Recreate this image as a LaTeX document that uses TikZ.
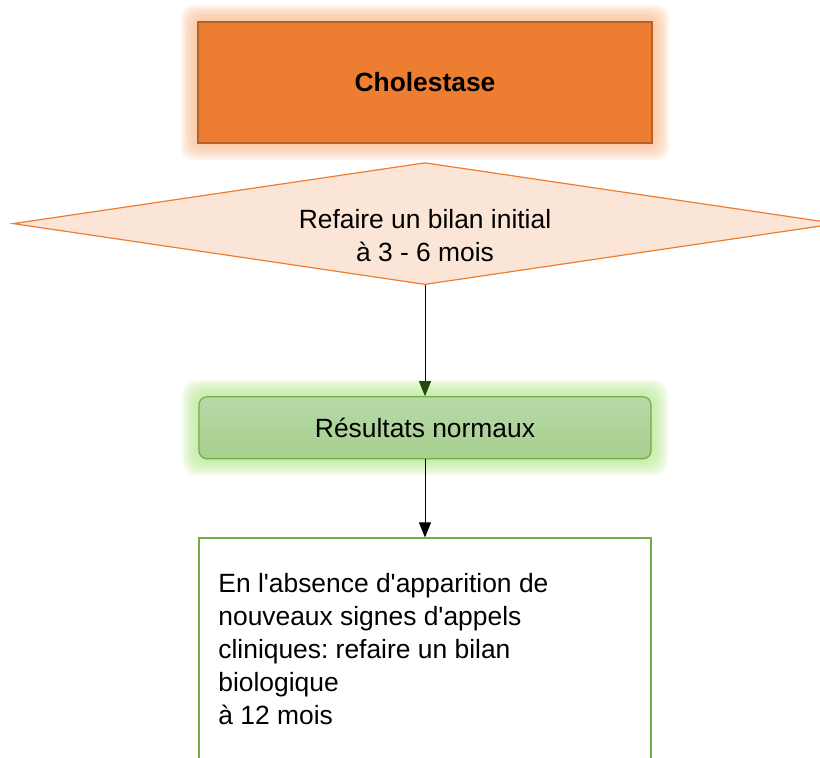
\documentclass[tikz,border=0pt]{standalone}
\usepackage{fontspec}
\setmainfont{Liberation Sans}
\usepackage{tikz}
\usetikzlibrary{positioning,shapes.geometric,arrows.meta,calc,backgrounds}
\frenchspacing

\definecolor{orfill}{HTML}{ED7D31}
\definecolor{ordraw}{HTML}{B5602A}
\definecolor{orglow}{HTML}{F9B98A}
\definecolor{palefill}{HTML}{FBE5D6}
\definecolor{grtop}{HTML}{B8D9AB}
\definecolor{grbot}{HTML}{A6CF8C}
\definecolor{grdraw}{HTML}{70AD47}
\definecolor{grglow}{HTML}{B6E78F}
\definecolor{tipgreen}{HTML}{1F4A10}

\newcommand{\apos}{\textquotesingle}

\tikzset{
	txt/.style={font=\fontsize{13.2}{16.5}\selectfont},
	headbox/.style={txt, draw=ordraw, line width=1pt, fill=orfill, minimum width=227pt, minimum height=60.5pt, font=\fontsize{13.2}{16.5}\selectfont\bfseries},
	decision/.style={diamond, aspect=6.75, draw=orfill, line width=0.6pt, fill=palefill, minimum width=412pt, minimum height=61pt, inner sep=0pt},
	decisiontext/.style={txt, align=center, inner sep=0pt},
	resultbox/.style={txt, draw=grdraw, line width=0.6pt, top color=grtop, bottom color=grbot, rounded corners=4pt, minimum width=226pt, minimum height=31pt},
	notebox/.style={draw=grdraw, line width=1pt, fill=white, minimum width=226pt, minimum height=130pt},
	notetext/.style={txt, align=left, inner sep=0pt, anchor=north west},
	flow/.style={-{Triangle[length=7.5pt,width=6pt]}, line width=0.5pt},
}

\begin{document}
\begin{tikzpicture}[x=0.5pt,y=-0.5pt]
	\useasboundingbox (0,0) rectangle (820,757);
	% Define nodes
	\node[headbox]                          (chol)  at (425,82.5) {Cholestase};
	\node[decision, below=9pt of chol]      (bilan) {};
	\node[decisiontext] (bilantxt) at ([yshift=-6pt]bilan.center) {Refaire un bilan initial\\à 3 - 6 mois};
	\node[resultbox, below=55.5pt of bilan] (normal) {Résultats normaux};
	\node[notebox, below=39pt of normal]    (suivi) {};
	\node[notetext] (suivitxt) at ([xshift=10pt,yshift=-18pt]suivi.north west)
		{En l\apos absence d\apos apparition de\\nouveaux signes d\apos appels\\cliniques: refaire un bilan\\biologique\\à 12 mois};

	% Glows
	\begin{scope}[on background layer]
		\foreach \i in {1,...,8} {
			\fill[orglow, opacity=0.15, rounded corners=6pt]
				($(chol.south west)+(-\i pt,-\i pt)$) rectangle ($(chol.north east)+(\i pt,\i pt)$);
			\fill[grglow, opacity=0.15, rounded corners=7pt]
				($(normal.south west)+(-\i pt,-\i pt)$) rectangle ($(normal.north east)+(\i pt,\i pt)$);
		}
	\end{scope}

	% Edges
	\draw[flow, -{Triangle[length=7.5pt,width=6pt,color=tipgreen]}] (bilan) -- (normal);
	\draw[flow] (normal) -- (suivi);
\end{tikzpicture}
\end{document}
